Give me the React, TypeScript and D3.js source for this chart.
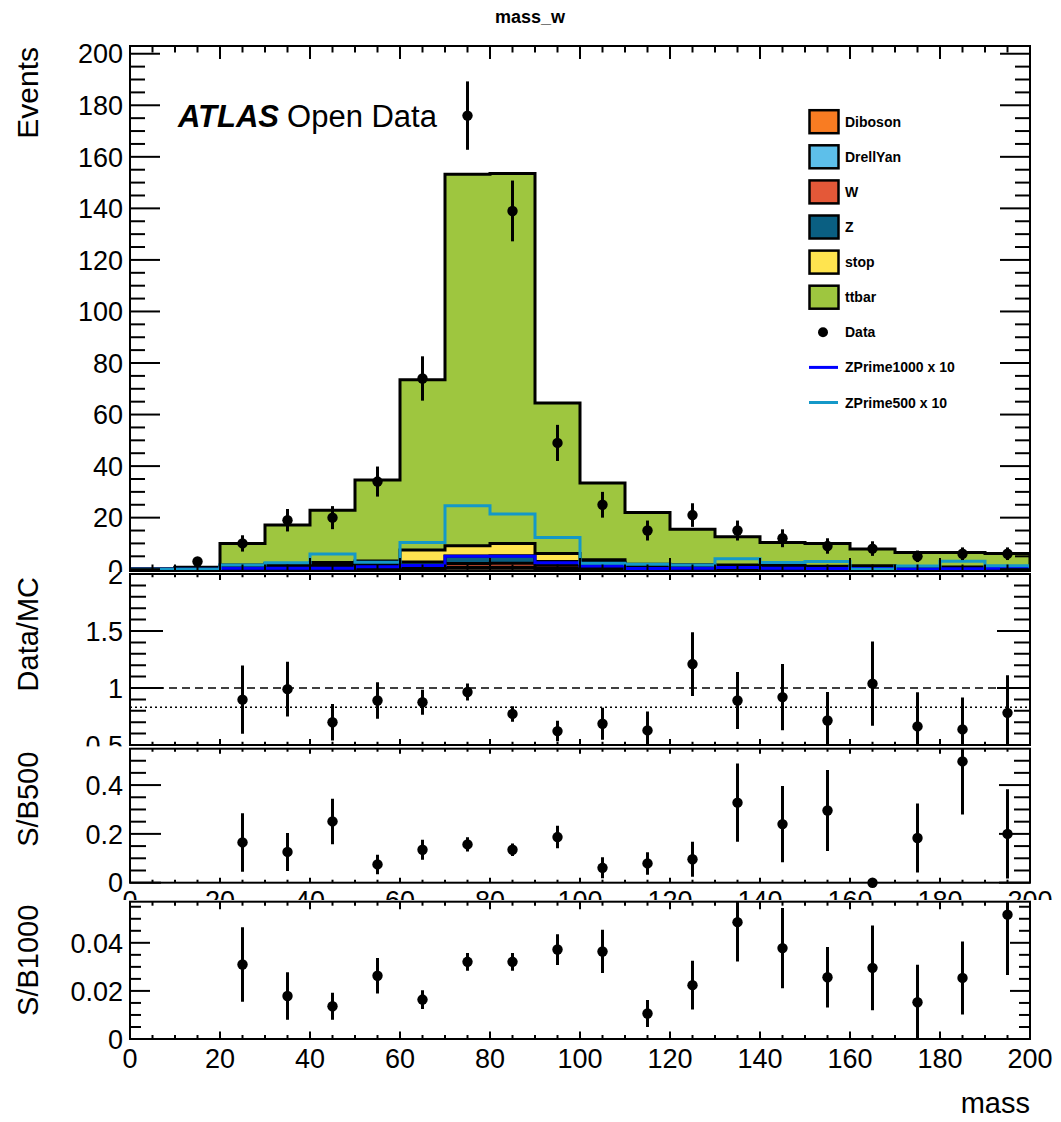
import React from 'react';
import * as d3 from 'd3';

// ---------------- data ----------------
const binLow = [0, 10, 20, 30, 40, 50, 60, 70, 80, 90, 100, 110, 120, 130, 140, 150, 160, 170, 180, 190];
const binWidth = 10;

const dataCounts = [0, 3, 10, 19, 20, 34, 74, 176, 139, 49, 25, 15, 21, 15, 12, 9, 8, 5, 6, 6];

// stacked backgrounds (bottom -> top)
const diboson = [0, 0, 0.1, 0.1, 0.2, 0.2, 0.3, 0.4, 0.4, 0.3, 0.3, 0.2, 0.2, 0.2, 0.1, 0.1, 0.1, 0.1, 0.1, 0.1];
const drellYan = [0, 0.2, 0.3, 0.3, 0.3, 0.4, 0.3, 0.4, 0.4, 0.3, 0.3, 0.2, 0.2, 0.2, 0.2, 0.2, 0.2, 0.1, 0.1, 0.1];
const wJets = [0, 0.1, 0.2, 0.3, 0.3, 0.4, 0.7, 1.4, 1.5, 1.1, 0.6, 0.5, 0.3, 0.3, 0.3, 0.2, 0.2, 0.2, 0.2, 0.1];
const zJets = [0, 0.2, 0.6, 0.8, 1.0, 1.2, 1.5, 2.9, 2.9, 1.3, 1.5, 0.6, 0.6, 0.6, 0.5, 0.4, 0.5, 0.3, 0.3, 0.3];
const stop = [0, 0.1, 0.4, 0.6, 0.8, 1.0, 4.6, 4.0, 4.8, 3.1, 1.0, 0.4, 0.4, 0.3, 0.3, 0.2, 0.3, 0.2, 0.2, 0.2];
const ttbar = [0, 0.2, 8.4, 15.0, 20.3, 31.4, 66.1, 144.1, 143.5, 58.4, 29.7, 20.1, 13.8, 11.0, 9.0, 8.9, 6.5, 5.6, 5.6, 5.3];

const zprime1000x10 = [0, 0, 0.32, 0.32, 0.33, 0.92, 1.4, 5.0, 5.0, 2.5, 1.25, 0.25, 0.36, 0.62, 0.41, 0.27, 0.23, 0.1, 0.17, 0.32];
const zprime500x10 = [0, 0, 1.65, 2.5, 5.9, 2.7, 10.4, 24.6, 21.4, 12.3, 2.3, 1.9, 1.6, 4.1, 2.6, 3.0, 0, 1.2, 3.1, 1.3];

const ratioVals = [null, null, 0.898, 0.99, 0.70, 0.89, 0.875, 0.965, 0.773, 0.622, 0.686, 0.628, 1.21, 0.89, 0.92, 0.715, 1.038, 0.663, 0.637, 0.782];
const ratioErrs = [null, null, 0.30, 0.24, 0.16, 0.16, 0.11, 0.075, 0.068, 0.09, 0.14, 0.165, 0.28, 0.25, 0.29, 0.25, 0.37, 0.30, 0.28, 0.33];
const ratioRefLine = 1;
const ratioDottedLine = 0.831;

const sb500Vals = [null, null, 0.165, 0.126, 0.251, 0.075, 0.135, 0.157, 0.135, 0.187, 0.061, 0.079, 0.096, 0.328, 0.24, 0.296, 0, 0.183, 0.497, 0.2];
const sb500Errs = [null, null, 0.12, 0.078, 0.093, 0.04, 0.041, 0.029, 0.026, 0.046, 0.043, 0.046, 0.072, 0.16, 0.156, 0.166, 0, 0.141, 0.218, 0.183];

const sb1000Vals = [null, null, 0.031, 0.0179, 0.0136, 0.0263, 0.0164, 0.0321, 0.0321, 0.0372, 0.0364, 0.0106, 0.0224, 0.0486, 0.0378, 0.0257, 0.0296, 0.0153, 0.0254, 0.0517];
const sb1000Errs = [null, null, 0.0155, 0.0099, 0.0056, 0.0074, 0.0039, 0.0037, 0.0037, 0.0064, 0.009, 0.0056, 0.0101, 0.0164, 0.0167, 0.0126, 0.0176, 0.0156, 0.0152, 0.0251];

const xTicks = [0, 20, 40, 60, 80, 100, 120, 140, 160, 180, 200];
const topYTicks = [0, 20, 40, 60, 80, 100, 120, 140, 160, 180, 200];
const ratioYTicks = [0.5, 1, 1.5, 2];
const sb500YTicks = [0, 0.2, 0.4];
const sb1000YTicks = [0, 0.02, 0.04];

const stackNames = ['Diboson', 'DrellYan', 'W', 'Z', 'stop', 'ttbar'];
const stackSeries = [diboson, drellYan, wJets, zJets, stop, ttbar];
const signalNames = ['ZPrime1000 x 10', 'ZPrime500 x 10'];

// ---------------- styles ----------------
const FONT = '"Liberation Sans", Arial, Helvetica, sans-serif';
const stackColors = ['#f97c22', '#5dbfea', '#e45838', '#0a5f82', '#ffe44f', '#9ec63f'];
const signalColors = ['#0000ff', '#1498c8'];

const W = 1061, H = 1122;
const X0 = 130, X1 = 1030;

function stepPath(vals: number[], x: any, y: any, close: boolean) {
  let d = `M${x(binLow[0])},${y(0)}`;
  vals.forEach((v, i) => {
    d += `V${y(v)}H${x(binLow[i] + binWidth)}`;
  });
  d += `V${y(0)}`;
  if (close) d += 'Z';
  return d;
}

function Frame(props: any) {
  const { x, y, top, bottom, yMajor, yMinorStep, yLen, yMinLen, xLen, xMinLen, labelSize, xLabelBaseline } = props;
  const [d0, d1] = y.domain();
  const minorY = d3.range(Math.ceil(d0 / yMinorStep - 1e-6) * yMinorStep, d1 + 1e-9, yMinorStep)
    .filter((v: number) => y(v) <= bottom + 0.5 && y(v) >= top - 0.5 && !yMajor.some((m: number) => Math.abs(m - v) < yMinorStep / 10));
  const minorX = d3.range(0, 200.1, 5).filter((v: number) => !xTicks.some((m) => Math.abs(m - v) < 0.1));
  const majY = yMajor.filter((v: number) => y(v) >= top - 0.5 && y(v) <= bottom + 0.5);
  return (
    <g stroke="#000" strokeWidth={2} fill="none">
      {majY.map((v: number) => (
        <g key={'my' + v}>
          <line x1={X0} x2={X0 + yLen} y1={y(v)} y2={y(v)} />
          <line x1={X1} x2={X1 - yLen} y1={y(v)} y2={y(v)} />
        </g>
      ))}
      {minorY.map((v: number) => (
        <g key={'ny' + v}>
          <line x1={X0} x2={X0 + yMinLen} y1={y(v)} y2={y(v)} />
          <line x1={X1} x2={X1 - yMinLen} y1={y(v)} y2={y(v)} />
        </g>
      ))}
      {xTicks.map((v) => (
        <g key={'mx' + v}>
          <line x1={x(v)} x2={x(v)} y1={bottom} y2={bottom - xLen} />
          <line x1={x(v)} x2={x(v)} y1={top} y2={top + xLen} />
        </g>
      ))}
      {minorX.map((v: number) => (
        <g key={'nx' + v}>
          <line x1={x(v)} x2={x(v)} y1={bottom} y2={bottom - xMinLen} />
          <line x1={x(v)} x2={x(v)} y1={top} y2={top + xMinLen} />
        </g>
      ))}
      <rect x={X0} y={top} width={X1 - X0} height={bottom - top} />
      <g stroke="none" fill="#000" fontSize={labelSize} fontFamily={FONT}>
        {majY.map((v: number) => (
          <text key={'ly' + v} x={123} y={y(v)} dy="0.36em" textAnchor="end">{String(v)}</text>
        ))}
        {xLabelBaseline != null && xTicks.map((v) => (
          <text key={'lx' + v} x={x(v)} y={xLabelBaseline} textAnchor="middle">{String(v)}</text>
        ))}
      </g>
    </g>
  );
}

function Points(props: any) {
  const { x, y, vals, errs } = props;
  return (
    <g>
      {vals.map((v: number | null, i: number) => {
        if (v == null) return null;
        const cx = x(binLow[i] + binWidth / 2);
        const e = errs[i] || 0;
        return (
          <g key={i}>
            {e > 0 && <line x1={cx} x2={cx} y1={y(v - e)} y2={y(v + e)} stroke="#000" strokeWidth={3} />}
            <circle cx={cx} cy={y(v)} r={5.2} fill="#000" />
          </g>
        );
      })}
    </g>
  );
}

function YTitle({ text, top, size }: { text: string; top: number; size: number }) {
  return (
    <text transform={`translate(38,${top + 3}) rotate(-90)`} textAnchor="end" fontSize={size} fontFamily={FONT} fill="#000">
      {text}
    </text>
  );
}

export default function App() {
  const x = d3.scaleLinear().domain([0, 200]).range([X0, X1]);

  const topP = { top: 46, bottom: 571 };
  const yTop = d3.scaleLinear().domain([-0.7, 203]).range([topP.bottom, topP.top]);
  const ratP = { top: 574, bottom: 745 };
  const yRat = d3.scaleLinear().domain([0.5, 2]).range([ratP.bottom, ratP.top]);
  const s5P = { top: 748.7, bottom: 882.7 };
  const yS5 = d3.scaleLinear().domain([0, 0.549]).range([s5P.bottom, s5P.top]);
  const s1P = { top: 901.7, bottom: 1039 };
  const yS1 = d3.scaleLinear().domain([0, 0.0571]).range([s1P.bottom, s1P.top]);

  // cumulative stack
  const cums: number[][] = [];
  stackSeries.forEach((s, k) => {
    cums.push(s.map((v, i) => v + (k > 0 ? cums[k - 1][i] : 0)));
  });

  const dataPts = dataCounts.map((c) => (c > 0 ? c : null));
  const dataErr = dataCounts.map((c) => Math.sqrt(c));

  const legendTop = 121.7;
  const legendStep = 35.1;
  const legendItems: any[] = [
    ...stackNames.map((n, i) => ({ name: n, type: 'box', color: stackColors[i] })),
    { name: 'Data', type: 'dot' },
    ...signalNames.map((n, i) => ({ name: n, type: 'line', color: signalColors[i] })),
  ];

  return (
    <svg width={W} height={H} style={{ position: 'absolute', left: 0, top: 0, background: '#fff' }} fontFamily={FONT}>
      <defs>
        <clipPath id="padTop"><rect x={0} y={0} width={W} height={572} /></clipPath>
        <clipPath id="frameTop"><rect x={X0} y={topP.top} width={X1 - X0} height={topP.bottom - topP.top} /></clipPath>
        <clipPath id="padRat"><rect x={0} y={572} width={W} height={174.5} /></clipPath>
        <clipPath id="frameRat"><rect x={X0} y={ratP.top} width={X1 - X0} height={ratP.bottom - ratP.top} /></clipPath>
        <clipPath id="padS5"><rect x={0} y={746.5} width={W} height={153.5} /></clipPath>
        <clipPath id="frameS5"><rect x={X0} y={s5P.top} width={X1 - X0} height={s5P.bottom - s5P.top + 6} /></clipPath>
        <clipPath id="padS1"><rect x={0} y={900} width={W} height={222} /></clipPath>
        <clipPath id="frameS1"><rect x={X0} y={s1P.top} width={X1 - X0} height={s1P.bottom - s1P.top} /></clipPath>
      </defs>
      <rect x={0} y={0} width={W} height={H} fill="#fff" />

      <text x={530} y={23} textAnchor="middle" fontSize={18} fontWeight="bold" fill="#000">mass_w</text>

      {/* ---------- top pad ---------- */}
      <g clipPath="url(#padTop)">
        <g clipPath="url(#frameTop)">
          {cums.map((_, kk) => {
            const k = cums.length - 1 - kk;
            return (
              <g key={k}>
                <path d={stepPath(cums[k], x, yTop, true)} fill={stackColors[k]} stroke="none" />
                <path d={stepPath(cums[k], x, yTop, false)} fill="none" stroke="#000" strokeWidth={3} />
              </g>
            );
          })}
          <path d={stepPath(zprime1000x10, x, yTop, false)} fill="none" stroke={signalColors[0]} strokeWidth={3} />
          <path d={stepPath(zprime500x10, x, yTop, false)} fill="none" stroke={signalColors[1]} strokeWidth={3} />
          <Points x={x} y={yTop} vals={dataPts} errs={dataErr} />
        </g>
        <Frame x={x} y={yTop} top={topP.top} bottom={topP.bottom} yMajor={topYTicks} yMinorStep={5}
          yLen={30} yMinLen={15} xLen={13} xMinLen={6.5} labelSize={27} />
        <YTitle text="Events" top={topP.top - 2} size={30} />
        <text x={178} y={127} fontSize={31} fill="#000">
          <tspan fontWeight="bold" fontStyle="italic">ATLAS</tspan>
          <tspan dx={8}>Open Data</tspan>
        </text>
        <g>
          {legendItems.map((it, i) => {
            const cy = legendTop + i * legendStep;
            return (
              <g key={it.name}>
                {it.type === 'box' && (
                  <rect x={809.5} y={cy - 11.5} width={29} height={23} fill={it.color} stroke="#000" strokeWidth={2.5} />
                )}
                {it.type === 'dot' && <circle cx={823} cy={cy} r={5} fill="#000" />}
                {it.type === 'line' && (
                  <line x1={809} x2={838} y1={cy} y2={cy} stroke={it.color} strokeWidth={3} />
                )}
                <text x={845} y={cy + 5} fontSize={14} fontWeight="bold" fill="#000">{it.name}</text>
              </g>
            );
          })}
        </g>
      </g>

      {/* ---------- ratio pad ---------- */}
      <g clipPath="url(#padRat)">
        <rect x={0} y={572} width={W} height={174.5} fill="#fff" />
        <g clipPath="url(#frameRat)">
          <line x1={X0} x2={X1} y1={yRat(ratioRefLine)} y2={yRat(ratioRefLine)} stroke="#000" strokeWidth={1.5} strokeDasharray="8,5" />
          <line x1={X0} x2={X1} y1={yRat(ratioDottedLine)} y2={yRat(ratioDottedLine)} stroke="#000" strokeWidth={1.5} strokeDasharray="2,3" />
          <Points x={x} y={yRat} vals={ratioVals} errs={ratioErrs} />
        </g>
        <Frame x={x} y={yRat} top={ratP.top} bottom={ratP.bottom} yMajor={ratioYTicks} yMinorStep={0.1}
          yLen={33} yMinLen={16} xLen={6} xMinLen={3.3} labelSize={27} />
        <YTitle text="Data/MC" top={ratP.top} size={29} />
      </g>

      {/* ---------- S/B500 pad ---------- */}
      <g clipPath="url(#padS5)">
        <rect x={0} y={746.5} width={W} height={153.5} fill="#fff" />
        <g clipPath="url(#frameS5)">
          <Points x={x} y={yS5} vals={sb500Vals} errs={sb500Errs} />
        </g>
        <Frame x={x} y={yS5} top={s5P.top} bottom={s5P.bottom} yMajor={sb500YTicks} yMinorStep={0.05}
          yLen={31} yMinLen={16} xLen={5} xMinLen={3} labelSize={27} xLabelBaseline={910} />
        <YTitle text="S/B500" top={s5P.top} size={29} />
      </g>

      {/* ---------- S/B1000 pad ---------- */}
      <g clipPath="url(#padS1)">
        <rect x={0} y={900} width={W} height={222} fill="#fff" />
        <g clipPath="url(#frameS1)">
          <Points x={x} y={yS1} vals={sb1000Vals} errs={sb1000Errs} />
        </g>
        <Frame x={x} y={yS1} top={s1P.top} bottom={s1P.bottom} yMajor={sb1000YTicks} yMinorStep={0.005}
          yLen={20} yMinLen={11} xLen={7.5} xMinLen={4} labelSize={27} xLabelBaseline={1068} />
        <YTitle text="S/B1000" top={s1P.top} size={29} />
        <text x={1030} y={1113} textAnchor="end" fontSize={29} fill="#000">mass</text>
      </g>
    </svg>
  );
}
